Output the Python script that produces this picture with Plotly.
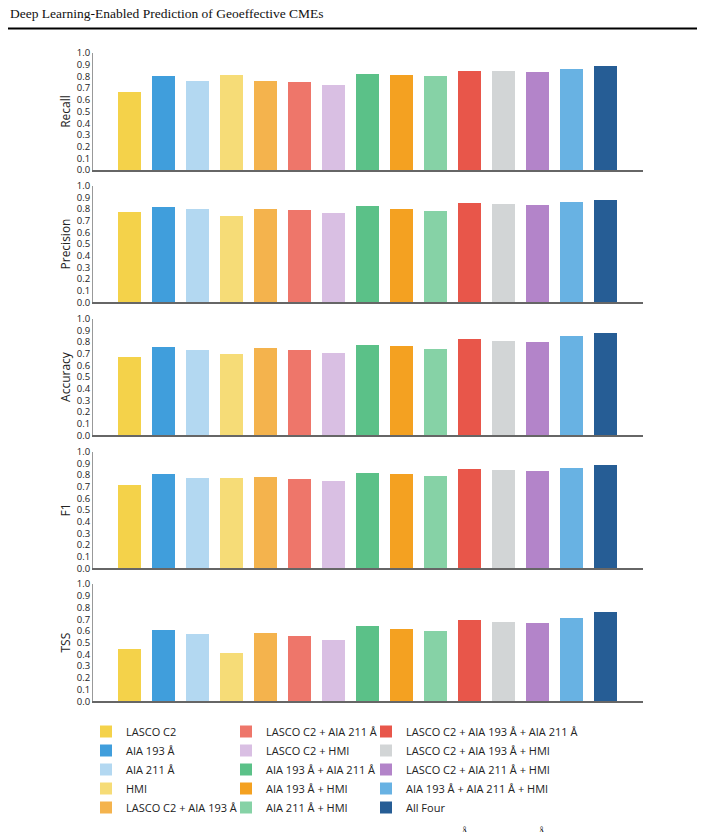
import plotly.graph_objects as go

categories = ["LASCO C2", "AIA 193 Å", "AIA 211 Å", "HMI",
              "LASCO C2 + AIA 193 Å", "LASCO C2 + AIA 211 Å", "LASCO C2 + HMI",
              "AIA 193 Å + AIA 211 Å", "AIA 193 Å + HMI", "AIA 211 Å + HMI",
              "LASCO C2 + AIA 193 Å + AIA 211 Å", "LASCO C2 + AIA 193 Å + HMI",
              "LASCO C2 + AIA 211 Å + HMI", "AIA 193 Å + AIA 211 Å + HMI", "All Four"]

recall = [0.67, 0.80, 0.765, 0.81, 0.76, 0.75, 0.73, 0.82, 0.81, 0.80, 0.85, 0.845, 0.835, 0.86, 0.885]
precision = [0.78, 0.82, 0.80, 0.74, 0.805, 0.795, 0.77, 0.825, 0.80, 0.785, 0.855, 0.845, 0.835, 0.865, 0.88]
accuracy = [0.67, 0.76, 0.73, 0.70, 0.755, 0.73, 0.71, 0.775, 0.765, 0.745, 0.83, 0.815, 0.80, 0.855, 0.88]
f1 = [0.72, 0.81, 0.78, 0.775, 0.785, 0.77, 0.755, 0.82, 0.81, 0.795, 0.855, 0.845, 0.835, 0.865, 0.885]
tss = [0.45, 0.61, 0.57, 0.415, 0.585, 0.555, 0.52, 0.64, 0.62, 0.60, 0.69, 0.68, 0.665, 0.71, 0.76]

metric_names = ["Recall", "Precision", "Accuracy", "F1", "TSS"]
metric_values = [recall, precision, accuracy, f1, tss]

colors = ["#f4d24a", "#409edc", "#b3d8f1", "#f6dc77", "#f4b34d",
          "#ee766a", "#d9bfe3", "#5bc188", "#f4a121", "#86d2a6",
          "#e8564a", "#d2d5d6", "#b384c9", "#68b2e3", "#265d95"]

W, H = 705, 832
# panel pixel extents (top of 1.0, bottom at 0.0)
panels_px = [(53, 170), (185.7, 302.3), (318.7, 435.3), (451.7, 568.3), (584, 701.3)]
x0_px, x1_px = 93, 643

fig = go.Figure()

for p, (name, vals) in enumerate(zip(metric_names, metric_values)):
    ax = "" if p == 0 else str(p + 1)
    for i, cat in enumerate(categories):
        col = i // 5
        fig.add_trace(go.Bar(
            x=[i], y=[vals[i]], name=cat,
            marker=dict(color=colors[i], line=dict(width=0)),
            width=0.67,
            xaxis="x" + ax, yaxis="y" + ax,
            legendgroup=cat, showlegend=(p == 0),
            legend=["legend", "legend2", "legend3"][col],
        ))

layout = dict(
    width=W, height=H, margin=dict(l=0, r=0, t=0, b=0, autoexpand=False),
    paper_bgcolor="white", plot_bgcolor="white",
    barmode="overlay", bargap=0,
    font=dict(family="Open Sans", color="#222"),
)

for p, (top, bot) in enumerate(panels_px):
    ax = "" if p == 0 else str(p + 1)
    layout["xaxis" + ax] = dict(
        domain=[x0_px / W, x1_px / W], range=[-1.07, 15.1],
        showticklabels=False, ticks="", showgrid=False, zeroline=False,
        showline=True, linecolor="#666", linewidth=1.5,
        anchor="y" + ax, fixedrange=True, automargin=False,
    )
    layout["yaxis" + ax] = dict(
        domain=[1 - bot / H, 1 - top / H], range=[0, 1.0],
        tickvals=[i / 10 for i in range(11)],
        ticktext=["%.1f" % (i / 10) for i in range(11)],
        tickfont=dict(size=9.5, color="#222"),
        ticks="", showgrid=False, zeroline=False,
        showline=True, linecolor="#999", linewidth=1,
        title=dict(text=metric_names[p], font=dict(size=12, color="#222"), standoff=3),
        anchor="x" + ax, fixedrange=True, automargin=False,
    )

leg_common = dict(orientation="v", yanchor="top", y=1 - 717 / H, xanchor="left",
                  font=dict(size=11, color="#222"), bgcolor="rgba(0,0,0,0)",
                  tracegroupgap=0, itemclick=False)
layout["legend"] = dict(x=86 / W, **leg_common)
layout["legend2"] = dict(x=226 / W, **leg_common)
layout["legend3"] = dict(x=366 / W, **leg_common)

fig.update_layout(**layout)

# page header
fig.add_annotation(text="Deep Learning-Enabled Prediction of Geoeffective CMEs",
                   xref="paper", yref="paper", x=8 / W, y=1 - 13 / H,
                   xanchor="left", yanchor="middle", showarrow=False,
                   font=dict(family="Liberation Serif", size=13.5, color="#111"))
fig.add_shape(type="line", xref="paper", yref="paper",
              x0=8 / W, x1=697 / W, y0=1 - 28.5 / H, y1=1 - 28.5 / H,
              line=dict(color="black", width=2))

# cut-off caption glyphs at the page bottom
for xp in (465, 542):
    fig.add_annotation(text="Å", xref="paper", yref="paper", x=xp / W, y=1 - 822.5 / H,
                       xanchor="center", yanchor="top", showarrow=False,
                       font=dict(family="Liberation Serif", size=13, color="#111"))

fig.write_html("out.html")
